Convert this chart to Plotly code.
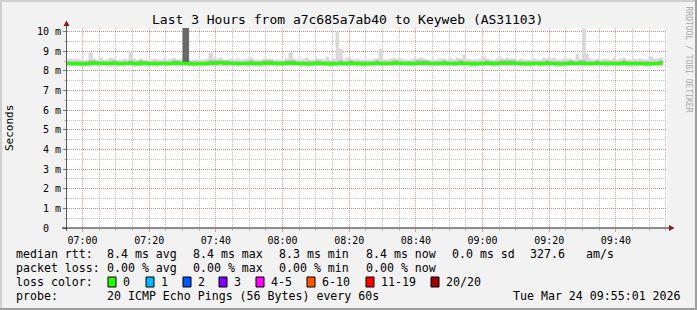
import pandas as pd
import plotly.graph_objects as go

# ---------------- data (hundredths of a millisecond) ----------------
med = [838,838,837,838,836,836,837,840,841,840,
       839,838,838,839,840,838,837,838,838,839,
       838,836,840,839,838,837,838,837,838,838,
       837,838,840,839,838,839,838,837,836,837,
       838,837,838,839,840,841,842,841,840,839,
       838,838,837,838,838,839,838,837,838,839,
       840,839,838,838,837,838,839,840,839,838,
       838,837,836,836,838,839,838,838,837,836,
       837,838,838,837,838,839,838,838,837,836,
       837,838,838,839,838,837,838,838,839,840,
       839,838,838,837,838,839,840,840,839,838,
       838,837,838,839,838,838,837,838,839,838,
       838,837,836,837,838,838,839,838,837,838,
       839,840,841,840,839,838,838,837,836,837,
       838,838,837,838,839,838,838,837,836,837,
       838,839,838,838,839,838,838,837,838,839,
       838,838,837,838,838,837,838,839,838,838,
       837,838,838,837,836,837,838,838,839]
lo = [824,822,826,823,825,820,824,822,823,826,
      824,823,825,818,824,822,826,820,824,823,
      822,824,826,824,820,825,823,822,824,826,
      823,825,824,822,826,824,823,825,822,824,
      822,824,825,823,826,825,827,824,822,824,
      823,820,824,825,822,824,826,823,822,824,
      824,826,823,822,824,825,824,826,823,824,
      822,824,821,823,825,824,826,823,824,822,
      824,822,824,825,823,824,826,822,824,823,
      824,823,822,825,824,826,823,824,825,823,
      824,823,826,824,822,824,823,825,824,822,
      823,825,824,822,824,826,823,824,825,822,
      824,822,820,823,824,825,824,823,822,824,
      825,826,824,825,823,824,822,824,823,822,
      824,823,822,824,825,823,824,822,821,823,
      824,825,823,824,826,822,823,824,825,824,
      823,824,822,824,825,823,824,826,823,822,
      824,822,823,824,822,823,824,825,824]
q_lo = [832,831,832,831,832,830,831,833,833,832,
        832,831,832,830,832,831,832,830,831,832,
        831,830,833,832,830,832,831,830,832,832,
        831,832,832,831,833,832,831,832,830,831,
        831,832,832,831,833,833,834,833,832,831,
        831,830,831,832,831,832,833,831,830,832,
        833,832,831,831,830,832,832,833,832,831,
        831,831,830,830,831,832,831,831,831,830,
        831,831,832,831,832,832,831,831,830,830,
        831,831,831,832,831,830,831,831,832,833,
        832,831,832,830,831,832,833,833,832,831,
        831,831,831,832,831,831,830,831,832,831,
        831,830,830,830,831,832,832,831,830,831,
        832,833,833,833,832,831,831,830,830,830,
        831,831,830,831,832,831,831,830,830,830,
        831,832,831,831,832,831,831,830,831,832,
        831,831,830,831,831,830,831,832,831,831,
        830,831,831,830,830,830,831,831,832]
q_hi = [846,848,845,847,846,845,848,850,849,847,
        848,847,846,848,850,847,846,848,847,849,
        847,845,850,848,847,846,848,846,847,848,
        846,848,850,849,848,850,849,847,845,846,
        847,846,848,849,850,851,852,850,849,848,
        847,848,846,847,848,849,847,846,847,849,
        850,849,847,848,846,847,849,851,850,848,
        847,846,845,846,848,849,848,847,846,845,
        846,848,849,847,848,850,848,847,846,845,
        846,847,848,849,848,846,847,848,849,850,
        848,847,848,846,847,849,850,851,849,848,
        847,846,848,849,847,848,846,847,849,848,
        847,846,845,846,848,847,849,848,846,847,
        849,850,852,851,849,848,847,846,845,846,
        848,847,846,848,849,848,847,846,845,846,
        847,849,848,847,850,849,848,846,847,849,
        847,848,846,847,848,846,847,849,848,847,
        846,847,848,846,845,846,847,848,849]
hi = [858,862,855,860,856,852,858,890,862,858,
      868,858,856,864,862,857,855,860,858,895,
      860,856,862,858,855,857,860,856,858,862,
      857,860,864,858,860,1060,1060,858,856,855,
      858,856,860,890,862,860,864,858,857,860,
      858,862,856,858,860,865,858,855,856,860,
      862,860,858,857,856,858,862,890,860,858,
      858,860,866,856,858,862,860,858,870,856,
      862,1000,910,858,864,860,858,862,856,858,
      858,856,860,862,910,858,856,860,864,862,
      860,857,858,856,860,862,865,860,858,857,
      858,856,860,862,858,860,856,868,860,880,
      862,858,856,858,860,870,862,858,856,860,
      866,862,864,860,862,858,860,856,855,858,
      860,858,856,864,862,860,866,858,856,860,
      860,862,858,885,862,1015,885,860,858,862,
      858,860,856,858,864,858,860,868,858,856,
      860,858,862,858,856,870,860,862,864]
dark_idx = [35, 36]
dark_top = [1060, 1060]

y_ticks = [0,1,2,3,4,5,6,7,8,9,10]
y_labels = ["0\u00a0\u00a0","1 m","2 m","3 m","4 m","5 m","6 m","7 m","8 m","9 m","10 m"]

title = "Last 3 Hours from a7c685a7ab40 to Keyweb (AS31103)"
row_rtt = ["median rtt:", "8.4 ms avg", "8.4 ms max", "8.3 ms min", "8.4 ms now", "0.0 ms sd", "327.6", "am/s"]
row_loss = ["packet loss:", "0.00 % avg", "0.00 % max", "0.00 % min", "0.00 % now"]
loss_labels = ["0","1","2","3","4-5","6-10","11-19","20/20"]
loss_colors = ["#26ff00","#00b8ff","#0059ff","#7f00ff","#ff00ff","#ff5500","#ff0000","#a00000"]
probe_text = ["probe:", "20 ICMP Echo Pings (56 Bytes) every 60s"]
stamp = "Tue Mar 24 09:55:01 2026"

# ---------------- layout helpers (pixel -> paper) ----------------
W, H = 697, 310
PL, PR, PT, PB = 67, 667, 28, 228
def fx(x): return (x - PL) / (PR - PL)
def fy(y): return (PB - y) / (PB - PT)

t0 = pd.Timestamp("2026-03-24 06:55:00")
step = pd.Timedelta(minutes=1)
times = [t0 + i * step for i in range(len(med))]
x_start = pd.Timestamp("2026-03-24 06:55:20")
x_end = pd.Timestamp("2026-03-24 09:55:20")

ms = lambda v: v / 100.0
MONO = "DejaVu Sans Mono"

fig = go.Figure()
def band(lower, upper, color, xs):
    fig.add_trace(go.Bar(
        x=xs, y=[ms(u) - ms(l) for l, u in zip(lower, upper)],
        base=[ms(l) for l in lower], width=60000, offset=0,
        marker=dict(color=color, line=dict(width=0.4, color=color)),
        hoverinfo="skip", showlegend=False))

band(lo, hi, "#d9d9d9", times)
band(q_lo, q_hi, "#ababab", times)
band([med[i] for i in dark_idx], dark_top, "#666666", [times[i] for i in dark_idx])

fig.add_trace(go.Scatter(
    x=times + [times[-1] + step], y=[ms(v) for v in med] + [ms(med[-1])],
    mode="lines", line=dict(color="#26ff00", width=3, shape="hv"),
    hoverinfo="skip", showlegend=False))

grid_minor = "rgba(143,143,143,0.55)"
grid_major = "rgba(222,79,79,0.55)"
fig.update_layout(
    width=W, height=H, margin=dict(l=PL, r=W - PR, t=PT, b=H - PB),
    paper_bgcolor="#f2f2f2", plot_bgcolor="#ffffff",
    barmode="overlay", bargap=0, showlegend=False,
    font=dict(family=MONO, size=10, color="#000000"),
    xaxis=dict(type="date", range=[x_start, x_end], showline=False, zeroline=False,
               tick0="2026-03-24 07:00:00", dtick=20 * 60 * 1000, tickformat="%H:%M",
               ticks="outside", ticklen=3, tickcolor=grid_major,
               showgrid=True, gridcolor=grid_major, griddash="1px,1px", gridwidth=1,
               tickfont=dict(family=MONO, size=10),
               minor=dict(dtick=5 * 60 * 1000, showgrid=True, gridcolor=grid_minor,
                          griddash="1px,1px", ticks="outside", ticklen=2, tickcolor=grid_minor)),
    yaxis=dict(range=[0, 10.19], tickvals=y_ticks, ticktext=y_labels, showline=False,
               zeroline=False, ticks="outside", ticklen=3, tickcolor="#777777",
               showgrid=True, gridcolor=grid_major, griddash="1px,1px", gridwidth=1,
               tickfont=dict(family=MONO, size=10),
               minor=dict(dtick=0.5, showgrid=True, gridcolor=grid_minor, griddash="1px,1px",
                          ticks="outside", ticklen=2, tickcolor=grid_minor)),
)

shapes = []
# frame (3D shade)
shapes.append(dict(type="rect", xref="paper", yref="paper", x0=fx(0), x1=fx(W), y0=fy(0), y1=fy(2),
                   fillcolor="#cfcfcf", line=dict(width=0), layer="below"))
shapes.append(dict(type="rect", xref="paper", yref="paper", x0=fx(0), x1=fx(2), y0=fy(0), y1=fy(H),
                   fillcolor="#cfcfcf", line=dict(width=0), layer="below"))
shapes.append(dict(type="rect", xref="paper", yref="paper", x0=fx(0), x1=fx(W), y0=fy(H - 2), y1=fy(H),
                   fillcolor="#9e9e9e", line=dict(width=0)))
shapes.append(dict(type="rect", xref="paper", yref="paper", x0=fx(W - 2), x1=fx(W), y0=fy(0), y1=fy(H),
                   fillcolor="#9e9e9e", line=dict(width=0)))
# axes with arrows
shapes.append(dict(type="line", xref="paper", yref="paper", x0=fx(66.5), x1=fx(66.5), y0=fy(231), y1=fy(25),
                   line=dict(color="#5a5a5a", width=1)))
shapes.append(dict(type="line", xref="paper", yref="paper", x0=fx(62), x1=fx(670), y0=fy(228), y1=fy(228),
                   line=dict(color="#1f1f1f", width=1)))
shapes.append(dict(type="path", xref="paper", yref="paper",
                   path=f"M {fx(66.5)} {fy(20.5)} L {fx(63.5)} {fy(26)} L {fx(69.5)} {fy(26)} Z",
                   fillcolor="#801f1f", line=dict(width=0)))
shapes.append(dict(type="path", xref="paper", yref="paper",
                   path=f"M {fx(674.5)} {fy(228)} L {fx(669)} {fy(225)} L {fx(669)} {fy(231)} Z",
                   fillcolor="#801f1f", line=dict(width=0)))

ann = []
def txt(x, y, s, size=11.6, anchor="left", color="#000000", angle=0):
    ann.append(dict(xref="paper", yref="paper", x=fx(x), y=fy(y), text=s, showarrow=False,
                    xanchor=anchor, yanchor="middle", textangle=angle, borderpad=0, borderwidth=0,
                    font=dict(family=MONO, size=size, color=color)))

txt(347.5, 19, title, size=13, anchor="center")
txt(9, 128, "Seconds", size=11, anchor="center", angle=-90)
txt(688.5, 59, "RRDTOOL / TOBI OETIKER", size=8, anchor="center", color="#a8a8a8", angle=90)

rtt_x = [16, 107, 193, 279, 366, 452, 530, 586]
for x, s in zip(rtt_x, row_rtt):
    txt(x, 254, s)
for x, s in zip(rtt_x, row_loss):
    txt(x, 268, s)
txt(16, 282, "loss color:")
box_x = [108, 146, 183, 219, 256, 307, 366, 431]
for x, s, c in zip(box_x, loss_labels, loss_colors):
    shapes.append(dict(type="rect", xref="paper", yref="paper", x0=fx(x), x1=fx(x + 8),
                       y0=fy(277), y1=fy(287), fillcolor=c, line=dict(color="#000000", width=1)))
    txt(x + 15, 282, s)
txt(16, 296, probe_text[0])
txt(107, 296, probe_text[1])
txt(681, 296, stamp, anchor="right")

fig.update_layout(shapes=shapes, annotations=ann)
fig.write_html("out.html")
